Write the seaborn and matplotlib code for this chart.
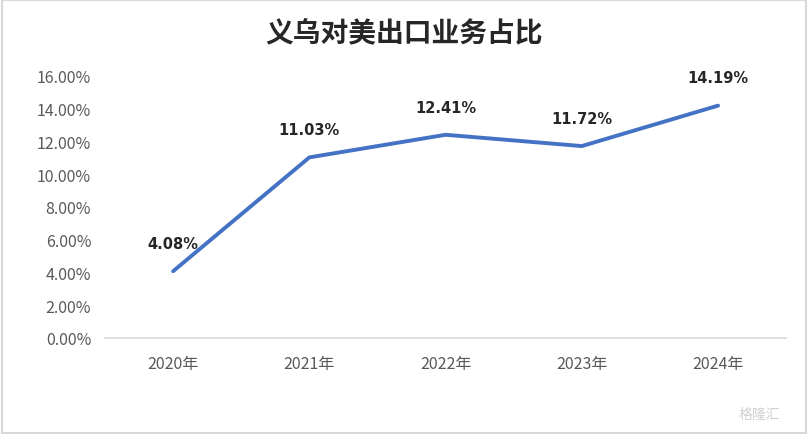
import matplotlib
matplotlib.use("Agg")
import matplotlib.pyplot as plt
import seaborn as sns
import pandas as pd
from matplotlib.patches import Rectangle
from matplotlib.ticker import FuncFormatter

# data
years = ["2020年", "2021年", "2022年", "2023年", "2024年"]
share = [4.08, 11.03, 12.41, 11.72, 14.19]
yticks = [0, 2, 4, 6, 8, 10, 12, 14, 16]

sns.set_theme(style="white")
plt.rcParams['font.family'] = ['Noto Sans CJK SC', 'DejaVu Sans']

df = pd.DataFrame({"year": years, "share": share})

fig = plt.figure(figsize=(8.08, 4.35), dpi=100)
ax = fig.add_axes([0.130, 0.2207, 0.843, 0.6023])

sns.lineplot(data=df, x="year", y="share", ax=ax, color="#4472C4",
             linewidth=2.8, sort=False)

for i, v in enumerate(share):
    ax.annotate(f"{v:.2f}%", (i, v), xytext=(0, 20), textcoords="offset points",
                ha="center", va="center", fontsize=10.5, fontweight="bold",
                color="#262626", family=['DejaVu Sans'])

ax.set_xlim(-0.5, len(years) - 0.5)
ax.set_ylim(0, 16)
ax.set_yticks(yticks)
ax.yaxis.set_major_formatter(FuncFormatter(lambda v, p: f"{v:.2f}%"))
ax.tick_params(axis="both", length=0, labelsize=11.5, labelcolor="#595959")
ax.tick_params(axis="x", pad=12)
ax.tick_params(axis="y", pad=10)
ax.set_xlabel("")
ax.set_ylabel("")
for s in ["top", "right", "left"]:
    ax.spines[s].set_visible(False)
ax.spines["bottom"].set_color("#d9d9d9")
ax.spines["bottom"].set_linewidth(1.2)

fig.text(0.5, 0.922, "义乌对美出口业务占比", ha="center", va="center",
         fontsize=20, fontweight="bold", color="#262626")

# watermark
fig.text(0.965, 0.045, "格隆汇", ha="right", va="center", fontsize=10,
         color="#d0d0d0")

fig.patches.append(Rectangle((0.002, 0.003), 0.996, 0.994, transform=fig.transFigure,
                             fill=False, edgecolor="#d9d9d9", linewidth=1.5))

fig.savefig("out.png", dpi=100)
